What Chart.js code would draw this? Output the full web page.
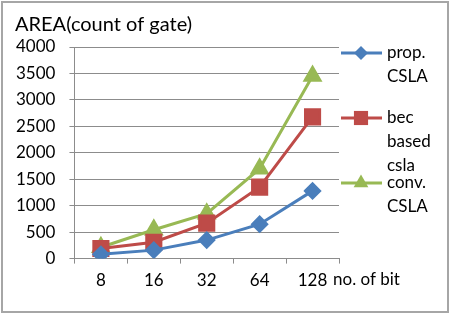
<!DOCTYPE html>
<html>
<head>
<meta charset="utf-8">
<script src="https://cdn.jsdelivr.net/npm/chart.js@4.4.1/dist/chart.umd.min.js"></script>
<style>
html, body { margin: 0; padding: 0; background: #fff; }
#wrap { width: 455px; height: 320px; position: relative; }
</style>
</head>
<body>
<div id="wrap"><canvas id="areaChart"></canvas></div>
<script>
// data
var bits = ['8', '16', '32', '64', '128'];
var propCsla = [80, 160, 350, 650, 1280];
var becCsla = [190, 310, 670, 1350, 2680];
var convCsla = [215, 545, 850, 1700, 3450];
var legendNames = [['prop.', 'CSLA'], ['bec', 'based', 'csla'], ['conv.', 'CSLA']];

var blue = '#4A7EBB', red = '#BE4B48', green = '#98B954';
var font = 'Lato';

// border, title, x title and the wrapped legend
var extras = {
    id: 'extras',
    beforeDraw: function (chart) {
        var ctx = chart.ctx;
        ctx.save();
        ctx.fillStyle = '#fff';
        ctx.fillRect(0, 0, chart.width, chart.height);
        ctx.strokeStyle = '#a6a6a6';
        ctx.lineWidth = 2;
        ctx.strokeRect(2, 2, 446, 310);
        ctx.restore();
    },
    afterDraw: function (chart) {
        var ctx = chart.ctx;
        var a = chart.chartArea;
        ctx.save();
        ctx.fillStyle = '#000';
        ctx.textBaseline = 'middle';
        ctx.textAlign = 'left';
        ctx.font = '20px ' + font;
        ctx.fillText('AREA(count of gate)', 15, 25);
        ctx.font = '17px ' + font;
        ctx.fillText('no. of bit', a.right - 6, 280);

        var rows = [53, 118, 183];
        chart.data.datasets.forEach(function (ds, i) {
            var y = rows[i];
            ctx.strokeStyle = ds.borderColor;
            ctx.lineWidth = 3;
            ctx.beginPath();
            ctx.moveTo(a.right + 2, y);
            ctx.lineTo(a.right + 43, y);
            ctx.stroke();
            ctx.fillStyle = ds.backgroundColor;
            Chart.helpers.drawPoint(ctx, {
                pointStyle: ds.pointStyle, radius: ds.pointRadius, rotation: 0, borderWidth: 0
            }, a.right + 22, y);
            ctx.fillStyle = '#000';
            legendNames[i].forEach(function (t, j) {
                ctx.fillText(t, a.right + 48, y + j * 24);
            });
        });
        ctx.restore();
    }
};

var config = {
    type: 'line',
    data: {
        labels: bits,
        datasets: [{
            label: 'prop. CSLA',
            data: propCsla,
            borderColor: blue,
            backgroundColor: blue,
            pointStyle: 'rectRot',
            pointRadius: 7,
            borderWidth: 3
        }, {
            label: 'bec based csla',
            data: becCsla,
            borderColor: red,
            backgroundColor: red,
            pointStyle: 'rect',
            pointRadius: 10,
            borderWidth: 3
        }, {
            label: 'conv. CSLA',
            data: convCsla,
            borderColor: green,
            backgroundColor: green,
            pointStyle: 'triangle',
            pointRadius: 8.5,
            borderWidth: 3
        }]
    },
    options: {
        responsive: true,
        maintainAspectRatio: false,
        animation: false,
        devicePixelRatio: 1,
        layout: { padding: { left: 2, top: 47, right: 116, bottom: 22 } },
        elements: { point: { borderWidth: 0 }, line: { tension: 0 } },
        plugins: { legend: { display: false }, title: { display: false }, tooltip: { enabled: false } },
        scales: {
            x: {
                offset: true,
                grid: { offset: true, drawOnChartArea: false, drawTicks: true, tickLength: 5, color: '#8c8c8c' },
                border: { display: true, color: '#8c8c8c' },
                ticks: { color: '#000', font: { family: font, size: 17 }, padding: 7 }
            },
            y: {
                min: 0,
                max: 4000,
                ticks: {
                    stepSize: 500, color: '#000', font: { family: font, size: 17 }, padding: 14,
                    callback: function (v) { return String(v); }
                },
                grid: { color: '#8c8c8c', tickLength: 5 },
                border: { display: true, color: '#8c8c8c' }
            }
        }
    },
    plugins: [extras]
};

var areaChart = new Chart(document.getElementById('areaChart'), config);
</script>
</body>
</html>
